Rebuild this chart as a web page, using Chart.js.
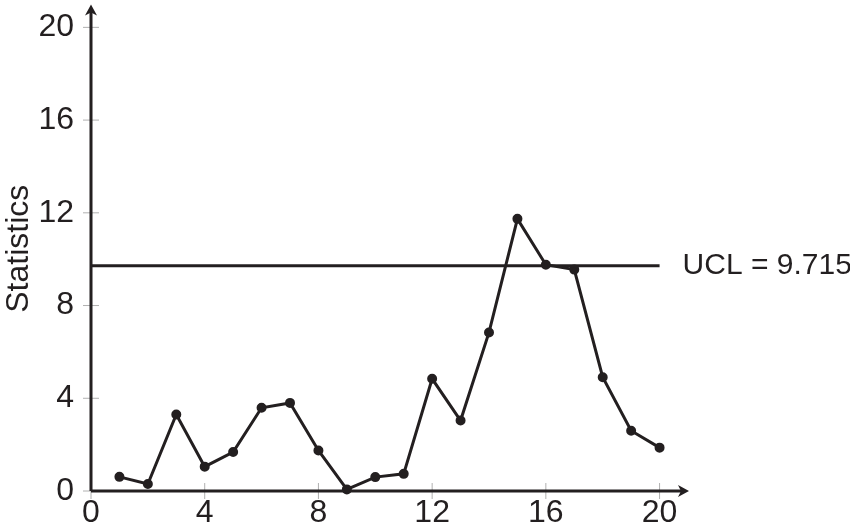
<!DOCTYPE html>
<html>
<head>
<meta charset="utf-8">
<script src="https://cdn.jsdelivr.net/npm/chart.js@4"></script>
<style>
  html, body { margin: 0; padding: 0; background: #fff; }
  #wrap { width: 850px; height: 531px; }
</style>
</head>
<body>
<div id="wrap"><canvas id="spcChart"></canvas></div>
<script>
// sample index and statistic per sample
const samples = [1, 2, 3, 4, 5, 6, 7, 8, 9, 10, 11, 12, 13, 14, 15, 16, 17, 18, 19, 20];
const statistics = [0.61, 0.30, 3.30, 1.05, 1.68, 3.59, 3.80, 1.75, 0.07, 0.60,
                    0.74, 4.84, 3.04, 6.84, 11.74, 9.76, 9.55, 4.91, 2.60, 1.87];
const ucl = 9.715;
const uclRange = [0, 20];
const tickValues = [0, 4, 8, 12, 16, 20];

const ink = '#231f20';
const fontFamily = '"Liberation Sans", "DejaVu Sans", sans-serif';

const arrowsAndTicks = {
    id: 'arrowsAndTicks',
    afterDraw(chart) {
        const c = chart.ctx;
        const xs = chart.scales.x;
        const ys = chart.scales.y;
        const x0 = xs.getPixelForValue(0);
        const y0 = ys.getPixelForValue(0);
        const area = chart.chartArea;

        c.save();
        // tick marks crossing the axes
        c.strokeStyle = '#b0b0b0';
        c.lineWidth = 1;
        tickValues.forEach(v => {
            const py = ys.getPixelForValue(v);
            c.beginPath(); c.moveTo(x0 - 8, py); c.lineTo(x0 + 8, py); c.stroke();
            const px = xs.getPixelForValue(v);
            c.beginPath(); c.moveTo(px, y0 - 8); c.lineTo(px, y0 + 8); c.stroke();
        });

        // axes
        c.strokeStyle = ink;
        c.lineWidth = 3;
        c.beginPath();
        c.moveTo(x0, y0); c.lineTo(area.right - 4, y0);
        c.moveTo(x0, y0); c.lineTo(x0, area.top + 4);
        c.stroke();

        // arrow heads
        c.fillStyle = ink;
        c.beginPath();
        c.moveTo(area.right + 1, y0);
        c.lineTo(area.right - 10, y0 - 6);
        c.lineTo(area.right - 7, y0);
        c.lineTo(area.right - 10, y0 + 6);
        c.closePath();
        c.fill();
        c.beginPath();
        c.moveTo(x0, area.top - 2);
        c.lineTo(x0 - 6, area.top + 9);
        c.lineTo(x0, area.top + 6);
        c.lineTo(x0 + 6, area.top + 9);
        c.closePath();
        c.fill();

        // UCL label
        c.font = '30px ' + fontFamily;
        c.textAlign = 'left';
        c.textBaseline = 'middle';
        c.fillText('UCL = ' + ucl, xs.getPixelForValue(uclRange[1]) + 23, ys.getPixelForValue(ucl));
        c.restore();
    }
};

new Chart(document.getElementById('spcChart'), {
    type: 'line',
    data: {
        datasets: [{
            data: samples.map((s, i) => ({ x: s, y: statistics[i] })),
            borderColor: ink,
            backgroundColor: ink,
            borderWidth: 3,
            pointRadius: 3.5,
            pointHoverRadius: 3.5,
            tension: 0
        }, {
            data: uclRange.map(x => ({ x: x, y: ucl })),
            borderColor: ink,
            borderWidth: 3,
            pointRadius: 0
        }]
    },
    options: {
        responsive: true,
        maintainAspectRatio: false,
        animation: false,
        clip: false,
        layout: { padding: { top: 2, right: 162, left: 0, bottom: 0 } },
        plugins: {
            legend: { display: false },
            tooltip: { enabled: false }
        },
        scales: {
            x: {
                type: 'linear',
                min: 0,
                max: 21,
                afterFit: s => { s.height = 40; s.paddingLeft = 0; s.paddingRight = 0; },
                afterBuildTicks: s => { s.ticks = tickValues.map(v => ({ value: v })); },
                grid: { display: false, drawTicks: false },
                border: { display: false },
                ticks: { color: ink, padding: 3, font: { family: fontFamily, size: 32 }, maxRotation: 0 }
            },
            y: {
                min: 0,
                max: 20.9,
                afterFit: s => { s.width = 91; s.paddingTop = 0; s.paddingBottom = 0; },
                afterBuildTicks: s => { s.ticks = tickValues.map(v => ({ value: v })); },
                grid: { display: false, drawTicks: false },
                border: { display: false },
                title: { display: true, text: 'Statistics', color: ink, padding: 0, font: { family: fontFamily, size: 32 } },
                ticks: { color: ink, padding: 17, font: { family: fontFamily, size: 32 } }
            }
        }
    },
    plugins: [arrowsAndTicks]
});
</script>
</body>
</html>
